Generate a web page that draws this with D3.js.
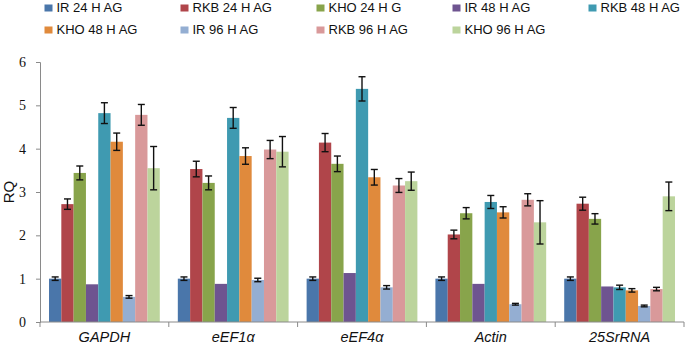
<!DOCTYPE html>
<html>
<head>
<meta charset="utf-8">
<script src="https://cdn.jsdelivr.net/npm/d3@7"></script>
<style>
  body { margin: 0; background: #fff; }
  svg { display: block; }
</style>
</head>
<body>
<script>
// genes on the x axis
var genes = ["GAPDH", "eEF1\u03b1", "eEF4\u03b1", "Actin", "25SrRNA"];
var series = ["IR 24 H AG", "RKB 24 H AG", "KHO 24 H G", "IR 48 H AG", "RKB 48 H AG",
              "KHO 48 H AG", "IR 96 H AG", "RKB 96 H AG", "KHO 96 H AG"];
var colors = ["#4a76aa", "#b0454a", "#88a44b", "#6e5490", "#3f9ab1",
              "#e08a3c", "#94aed2", "#d9999a", "#bcd49c"];
var yTicks = [0, 1, 2, 3, 4, 5, 6];

// RQ per series, one value per gene
var ir24  = [1.00, 1.00, 1.00, 1.00, 1.00];
var rkb24 = [2.72, 3.53, 4.14, 2.02, 2.73];
var kho24 = [3.44, 3.21, 3.65, 2.51, 2.38];
var ir48  = [0.87, 0.88, 1.13, 0.88, 0.82];
var rkb48 = [4.82, 4.71, 5.38, 2.77, 0.80];
var kho48 = [4.16, 3.83, 3.34, 2.53, 0.73];
var ir96  = [0.58, 0.97, 0.80, 0.41, 0.37];
var rkb96 = [4.78, 3.98, 3.15, 2.82, 0.76];
var kho96 = [3.55, 3.93, 3.25, 2.30, 2.90];

// error (+/-), null = no bar
var ir24e  = [0.04, 0.04, 0.04, 0.04, 0.04];
var rkb24e = [0.12, 0.18, 0.21, 0.10, 0.15];
var kho24e = [0.16, 0.16, 0.18, 0.13, 0.12];
var ir48e  = [null, null, null, null, null];
var rkb48e = [0.24, 0.24, 0.28, 0.15, 0.05];
var kho48e = [0.20, 0.19, 0.18, 0.13, 0.04];
var ir96e  = [0.03, 0.04, 0.04, 0.02, 0.02];
var rkb96e = [0.24, 0.21, 0.16, 0.14, 0.04];
var kho96e = [0.50, 0.35, 0.21, 0.50, 0.33];

var values = [ir24, rkb24, kho24, ir48, rkb48, kho48, ir96, rkb96, kho96];
var errors = [ir24e, rkb24e, kho24e, ir48e, rkb48e, kho48e, ir96e, rkb96e, kho96e];

var w = 685, h = 346;
var mLeft = 40, mRight = 684, mTop = 62, mBottom = 322;

var rows = [];
genes.forEach(function(g, gi){
    series.forEach(function(s, si){
        rows.push({gene: g, s: s, si: si, v: values[si][gi], e: errors[si][gi]});
    });
});

var svg = d3.select("body").append("svg")
    .attr("width", w)
    .attr("height", h);

var x0 = d3.scaleBand()
    .domain(genes)
    .range([mLeft, mRight])
    .paddingInner(0.14)
    .paddingOuter(0.07);

var x1 = d3.scaleBand()
    .domain(series)
    .range([0, x0.bandwidth()]);

var y = d3.scaleLinear()
    .domain([0, 6])
    .range([mBottom, mTop]);

// bars
svg.append("g").selectAll("rect")
    .data(rows)
    .enter()
    .append("rect")
    .attr("x", function(d){ return x0(d.gene) + x1(d.s); })
    .attr("y", function(d){ return y(d.v); })
    .attr("width", x1.bandwidth())
    .attr("height", function(d){ return y(0) - y(d.v); })
    .attr("fill", function(d){ return colors[d.si]; });

// error bars
var eb = svg.append("g")
    .attr("stroke", "#111")
    .attr("stroke-width", 1.4)
    .selectAll("g")
    .data(rows.filter(function(d){ return d.e != null; }))
    .enter()
    .append("g")
    .attr("transform", function(d){
        return "translate(" + (x0(d.gene) + x1(d.s) + x1.bandwidth() / 2) + ",0)";
    });
eb.append("line")
    .attr("y1", function(d){ return y(d.v - d.e); })
    .attr("y2", function(d){ return y(d.v + d.e); });
eb.append("line")
    .attr("x1", -3.5).attr("x2", 3.5)
    .attr("y1", function(d){ return y(d.v - d.e); })
    .attr("y2", function(d){ return y(d.v - d.e); });
eb.append("line")
    .attr("x1", -3.5).attr("x2", 3.5)
    .attr("y1", function(d){ return y(d.v + d.e); })
    .attr("y2", function(d){ return y(d.v + d.e); });

// y axis
var yAxis = d3.axisLeft(y)
    .tickValues(yTicks)
    .tickFormat(d3.format("d"))
    .tickSize(4)
    .tickPadding(10);
var ya = svg.append("g")
    .attr("transform", "translate(" + mLeft + ",0)")
    .call(yAxis);
ya.select(".domain").attr("stroke", "#8a8a8a");
ya.selectAll(".tick line").attr("stroke", "#8a8a8a");
ya.selectAll("text")
    .attr("font-family", "'Liberation Serif', 'Times New Roman', serif")
    .attr("font-size", 14)
    .attr("fill", "#111");

// x axis: line with ticks at group boundaries
var step = x0.step();
var bounds = genes.map(function(g){ return x0(g) - step * x0.paddingInner() / 2; });
bounds.push(mRight);
var xa = svg.append("g");
xa.append("line")
    .attr("x1", mLeft).attr("x2", mRight)
    .attr("y1", mBottom).attr("y2", mBottom)
    .attr("stroke", "#8a8a8a");
xa.selectAll("line.tk")
    .data(bounds)
    .enter()
    .append("line")
    .attr("class", "tk")
    .attr("x1", function(d){ return d; })
    .attr("x2", function(d){ return d; })
    .attr("y1", mBottom)
    .attr("y2", mBottom + 5)
    .attr("stroke", "#8a8a8a");
xa.selectAll("text")
    .data(genes)
    .enter()
    .append("text")
    .attr("x", function(d){ return x0(d) + x0.bandwidth() / 2; })
    .attr("y", 342)
    .attr("text-anchor", "middle")
    .attr("font-family", "'Liberation Sans', Arial, sans-serif")
    .attr("font-style", "italic")
    .attr("font-size", 14.5)
    .attr("fill", "#111")
    .text(function(d){ return d; });

// y title
svg.append("text")
    .attr("transform", "translate(14,192) rotate(-90)")
    .attr("text-anchor", "middle")
    .attr("font-family", "'Liberation Sans', Arial, sans-serif")
    .attr("font-size", 15)
    .attr("fill", "#111")
    .text("RQ");

// legend
var legend = svg.append("g").selectAll("g")
    .data(series)
    .enter()
    .append("g")
    .attr("transform", function(d, i){
        return "translate(" + (44.5 + (i % 5) * 136) + "," + (i < 5 ? 12 : 34) + ")";
    });
legend.append("rect")
    .attr("x", 0).attr("y", -7.5)
    .attr("width", 8).attr("height", 7)
    .attr("fill", function(d, i){ return colors[i]; });
legend.append("text")
    .attr("x", 12)
    .attr("y", 0)
    .attr("font-family", "'Liberation Sans', Arial, sans-serif")
    .attr("font-size", 13)
    .attr("fill", "#111")
    .text(function(d){ return d; });
</script>
</body>
</html>
